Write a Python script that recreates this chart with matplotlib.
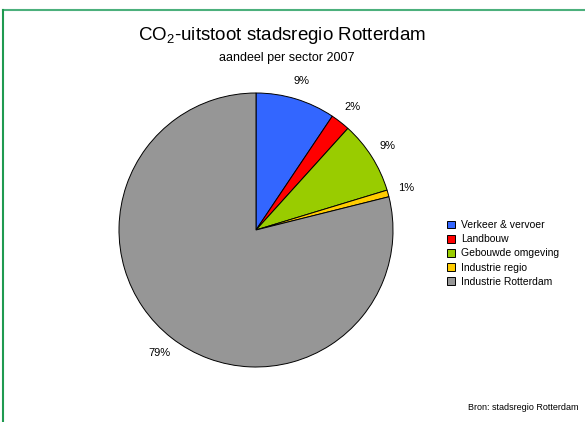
import matplotlib.pyplot as plt
from matplotlib.lines import Line2D

plt.rcParams['font.family'] = ['Liberation Sans', 'DejaVu Sans']
plt.rcParams['mathtext.fontset'] = 'custom'
plt.rcParams['mathtext.rm'] = 'Liberation Sans'

sectors = ["Verkeer & vervoer", "Landbouw", "Gebouwde omgeving",
           "Industrie regio", "Industrie Rotterdam"]
shares = [9.4, 2.3, 8.6, 0.8, 78.9]
colors = ["#3366ff", "#ff0000", "#99cc00", "#ffcc00", "#969696"]

W, H = 585, 422
fig = plt.figure(figsize=(W / 100, H / 100), dpi=100)

# green frame along top and left edge
fig.add_artist(Line2D([3 / W, 1], [1 - 10 / H, 1 - 10 / H], color="#4cb07c", lw=1.5))
fig.add_artist(Line2D([3 / W, 3 / W], [0, 1 - 10 / H], color="#1f9a50", lw=1.5))

cx, cy, r = 256, 230, 137
ax = fig.add_axes([(cx - r) / W, (H - cy - r) / H, 2 * r / W, 2 * r / H])
wedges, texts, autotexts = ax.pie(
    shares, colors=colors, startangle=90, counterclock=False, radius=1,
    autopct="%.0f%%", pctdistance=1.14,
    wedgeprops=dict(edgecolor="black", linewidth=0.7),
    textprops=dict(fontsize=8))
ax.set_xlim(-1, 1)
ax.set_ylim(-1, 1)
ax.set_aspect("equal")

fig.text(282 / W, 1 - 36 / H, r"CO$_\mathrm{2}$-uitstoot stadsregio Rotterdam",
         ha="center", va="center", fontsize=13.5)
fig.text(287 / W, 1 - 58 / H, "aandeel per sector 2007",
         ha="center", va="center", fontsize=9)

fig.legend(wedges, sectors, loc="upper left",
           bbox_to_anchor=(443 / W, 1 - 216 / H), frameon=False,
           fontsize=7.5, handlelength=0.75, handleheight=0.75,
           handletextpad=0.6, labelspacing=0.4, borderaxespad=0)

fig.text(578 / W, 1 - 407 / H, "Bron: stadsregio Rotterdam",
         ha="right", va="center", fontsize=6.5)

fig.savefig("out.png", dpi=100)
